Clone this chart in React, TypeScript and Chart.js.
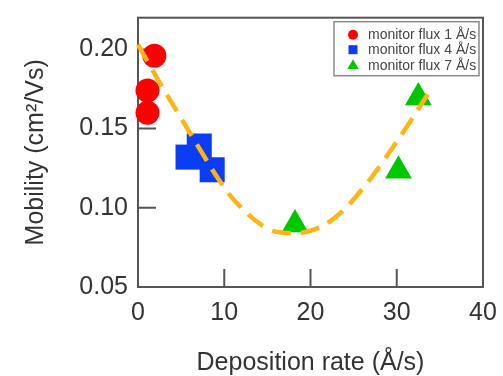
import { useEffect, useRef } from 'react';
import { Chart, registerables } from 'chart.js';

Chart.register(...registerables);

const seriesLabels = ['monitor flux 1 Å/s', 'monitor flux 4 Å/s', 'monitor flux 7 Å/s'];
const flux1X = [1.9, 1.1, 1.1];
const flux1Y = [0.196, 0.174, 0.16];
const flux4X = [5.8, 7.1, 8.6];
const flux4Y = [0.132, 0.139, 0.124];
const flux7X = [18.2, 30.2, 32.5];
const flux7Y = [0.0895, 0.1234, 0.1697];
const fitX = [0, 2.3, 4.5, 7.5, 9.6, 11.8, 15, 17.6, 20.3, 23.1, 26.1, 28.5, 31.5, 34.1];
const fitY = [0.203, 0.181, 0.161, 0.134, 0.116, 0.101, 0.087, 0.084, 0.086, 0.095, 0.1125, 0.13, 0.154, 0.176];
const xTicks = [0, 10, 20, 30, 40];
const yTicks = [0.05, 0.1, 0.15, 0.2];

const FONT = '"Liberation Sans", Arial, Helvetica, sans-serif';
const AXIS = '#555555';

const pts = (xs: number[], ys: number[]) => xs.map((x, i) => ({ x, y: ys[i] }));

const framePlugin = {
  id: 'frameTicks',
  beforeDatasetsDraw(chart: any) {
    const { ctx, chartArea, scales } = chart;
    const { left, right, top, bottom } = chartArea;
    ctx.save();
    ctx.strokeStyle = AXIS;
    ctx.lineWidth = 2;
    ctx.strokeRect(left, top, right - left, bottom - top);
    ctx.beginPath();
    xTicks.slice(1, -1).forEach((v) => {
      const px = scales.x.getPixelForValue(v);
      ctx.moveTo(px, bottom);
      ctx.lineTo(px, bottom - 18);
    });
    yTicks.slice(1).forEach((v) => {
      const py = scales.y.getPixelForValue(v);
      ctx.moveTo(left, py);
      ctx.lineTo(left + 18, py);
    });
    ctx.stroke();
    ctx.restore();
  },
};

const legendPlugin = {
  id: 'boxLegend',
  afterDraw(chart: any) {
    const { ctx, chartArea } = chart;
    const right = chartArea.right - 4;
    const left = right - 145;
    const top = chartArea.top + 4;
    const h = 54;
    ctx.save();
    ctx.strokeStyle = '#8a8a8a';
    ctx.lineWidth = 1.5;
    ctx.strokeRect(left, top, right - left, h);
    ctx.font = `14px ${FONT}`;
    ctx.textBaseline = 'middle';
    ctx.textAlign = 'left';
    const rows = [13, 28, 44];
    chart.data.datasets.slice(1).forEach((ds: any, i: number) => {
      const cx = left + 19;
      const cy = top + rows[i];
      ctx.fillStyle = ds.backgroundColor;
      ctx.beginPath();
      if (ds.pointStyle === 'circle') {
        ctx.arc(cx, cy, 5, 0, Math.PI * 2);
      } else if (ds.pointStyle === 'rect') {
        ctx.rect(cx - 4.5, cy - 4.5, 9, 9);
      } else {
        const r = 6.5;
        ctx.moveTo(cx, cy - r);
        ctx.lineTo(cx + r * 0.866, cy + r / 2);
        ctx.lineTo(cx - r * 0.866, cy + r / 2);
        ctx.closePath();
      }
      ctx.fill();
      ctx.fillStyle = '#444444';
      ctx.fillText(ds.label, left + 34, cy);
    });
    ctx.restore();
  },
};

export default function App() {
  const ref = useRef<HTMLCanvasElement | null>(null);

  useEffect(() => {
    if (!ref.current) return;
    const chart = new Chart(ref.current, {
      type: 'scatter',
      data: {
        datasets: [
          {
            label: 'fit',
            data: pts(fitX, fitY),
            showLine: true,
            pointRadius: 0,
            borderColor: '#FFB414',
            borderWidth: 4.5,
            borderDash: [19, 10],
            tension: 0.4,
            fill: false,
            order: 0,
            clip: false,
          } as any,
          {
            label: seriesLabels[0],
            data: pts(flux1X, flux1Y),
            pointStyle: 'circle',
            pointRadius: 12,
            backgroundColor: '#FF0000',
            borderWidth: 0,
            order: 1,
            clip: false,
          } as any,
          {
            label: seriesLabels[1],
            data: pts(flux4X, flux4Y),
            pointStyle: 'rect',
            pointRadius: 17.7,
            backgroundColor: '#0B3DF5',
            borderWidth: 0,
            order: 1,
            clip: false,
          } as any,
          {
            label: seriesLabels[2],
            data: pts(flux7X, flux7Y),
            pointStyle: 'triangle',
            pointRadius: 15.5,
            backgroundColor: '#00C800',
            borderWidth: 0,
            order: 1,
            clip: false,
          } as any,
        ],
      },
      options: {
        animation: false,
        responsive: true,
        maintainAspectRatio: false,
        events: [],
        layout: { padding: { top: 14, right: 20, bottom: 0, left: 0 } },
        plugins: {
          legend: { display: false },
          tooltip: { enabled: false },
        },
        scales: {
          x: {
            type: 'linear',
            min: 0,
            max: 40,
            afterBuildTicks: (s: any) => {
              s.ticks = xTicks.map((v) => ({ value: v }));
            },
            afterFit: (s: any) => {
              s.height = 89;
              s.paddingLeft = 0;
              s.paddingRight = 0;
              s.paddingTop = 0;
              s.paddingBottom = 0;
            },
            grid: { display: false, drawTicks: false },
            border: { display: false },
            ticks: {
              padding: 11,
              color: '#333333',
              font: { family: FONT, size: 25 },
              callback: (v: any) => String(v),
            },
            title: {
              display: true,
              text: 'Deposition rate (Å/s)',
              color: '#333333',
              font: { family: FONT, size: 25, lineHeight: 1 },
              padding: { top: 0, bottom: 0 },
            },
          },
          y: {
            type: 'linear',
            min: 0.05,
            max: 0.22,
            afterBuildTicks: (s: any) => {
              s.ticks = yTicks.map((v) => ({ value: v }));
            },
            afterFit: (s: any) => {
              s.width = 138;
              s.paddingLeft = 0;
              s.paddingRight = 0;
              s.paddingTop = 0;
              s.paddingBottom = 0;
            },
            grid: { display: false, drawTicks: false },
            border: { display: false },
            ticks: {
              padding: 10,
              color: '#333333',
              font: { family: FONT, size: 25 },
              callback: (v: any) => Number(v).toFixed(2),
            },
            title: {
              display: true,
              text: 'Mobility (cm²/Vs)',
              color: '#333333',
              font: { family: FONT, size: 25, lineHeight: 1 },
              padding: { top: 24, bottom: 0 },
            },
          },
        },
      },
      plugins: [framePlugin, legendPlugin],
    });
    return () => chart.destroy();
  }, []);

  return (
    <div style={{ position: 'absolute', left: 0, top: 0, width: 503, height: 376, background: '#ffffff' }}>
      <canvas ref={ref} />
    </div>
  );
}
